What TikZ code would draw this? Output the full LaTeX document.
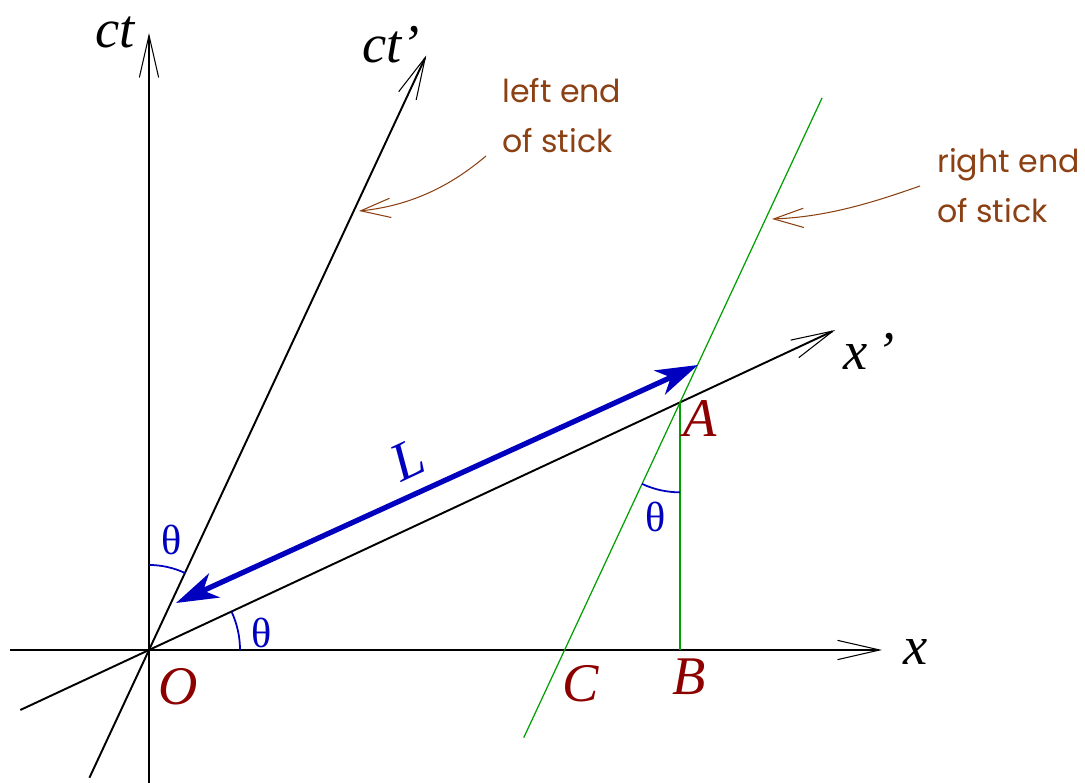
\documentclass[tikz,border=0pt]{standalone}
\usepackage{fontspec}
\setmainfont{Liberation Serif}
\newfontfamily\gothic{Poppins}
\usetikzlibrary{arrows.meta,calc}
\definecolor{stickbrown}{RGB}{140,65,20}
\definecolor{ptred}{RGB}{140,0,0}
\definecolor{angblue}{RGB}{0,0,190}
\definecolor{linegreen}{RGB}{0,160,0}
\tikzset{
  axis/.style  ={line width=1.1pt, -{Straight Barb[length=24pt,width=11pt,line width=0.6pt]}},
  wline/.style ={linegreen, line width=0.7pt},
  ang/.style   ={angblue, line width=1pt},
  larr/.style  ={angblue, line width=3pt, {Stealth[length=24pt,width=15pt,inset=7pt]}-{Stealth[length=24pt,width=15pt,inset=7pt]}},
  note/.style  ={stickbrown, line width=0.6pt, -{Straight Barb[length=17pt,width=11pt,line width=0.6pt]}},
  axlbl/.style ={font=\fontsize{31}{31}\selectfont\itshape, inner sep=0pt, anchor=base west},
  ptlbl/.style ={axlbl, ptred},
  thlbl/.style ={font=\fontsize{24}{24}\selectfont, angblue, inner sep=0pt},
  stick/.style ={font=\gothic\fontsize{18}{28.5}\selectfont, stickbrown, align=left, inner sep=0pt, anchor=north west},
}
\begin{document}
\begin{tikzpicture}[x=0.02cm, y=0.02cm]
  \useasboundingbox (0,0) rectangle (1085,783);
  % frame points
  \coordinate (O) at (149,133);
  \coordinate (xl) at (10,133);
  \coordinate (xr) at (882,133);
  \coordinate (tb) at (149,0);
  \coordinate (tt) at (149,750);
  \coordinate (tpb) at ($(O)+(245:141)$);
  \coordinate (tpt) at ($(O)+(65:656)$);
  \coordinate (xpb) at ($(O)+(205:142)$);
  \coordinate (xpt) at ($(O)+(25:757)$);
  \coordinate (A) at ($(O)+(25:586)$);
  \coordinate (B) at (A |- O);
  \coordinate (C) at ($(A)+(245:273.2)$);
  \coordinate (wt) at ($(A)+(65:336)$);
  \coordinate (wb) at ($(A)+(245:370)$);
  \coordinate (Ls) at (176,180);
  \coordinate (Le) at (698,418);
  % axes
  \draw[axis] (xl) -- (xr);
  \draw[axis] (tb) -- (tt);
  \draw[axis] (tpb) -- (tpt);
  \draw[axis] (xpb) -- (xpt);
  % world line of right end
  \draw[wline] (wb) -- (wt);
  \draw[wline] (A) -- (B);
  % length of stick
  \draw[larr] (Ls) -- (Le);
  \node[axlbl, angblue, anchor=center, rotate=25] (lL) at (408,323) {L};
  % angles
  \draw[ang] ($(O)+(90:85)$) arc[start angle=90, end angle=65, radius=85];
  \draw[ang] ($(O)+(0:91)$) arc[start angle=0, end angle=25, radius=91];
  \draw[ang] ($(A)+(270:90)$) arc[start angle=270, end angle=245, radius=90];
  \node[thlbl] (th1) at (172,243) {θ};
  \node[thlbl] (th2) at (262,150) {θ};
  \node[thlbl] (th3) at (656,266) {θ};
  % labels
  \node[axlbl] (lct) at (95,735) {ct};
  \node[axlbl] (lctp) at (362,720) {ct’};
  \node[axlbl] (lxp) at (843,413) {x\,’};
  \node[axlbl] (lx) at (903,118) {x};
  \node[ptlbl] (lO) at (158,78) {O};
  \node[ptlbl] (lA) at (683,346) {A};
  \node[ptlbl] (lB) at (672,88) {B};
  \node[ptlbl] (lC) at (562,81) {C};
  % notes
  \node[stick] (lend) at (502,705) {left end\\of stick};
  \node[stick] (rend) at (937,635) {right end\\of stick};
  \coordinate (la) at (486,627);
  \coordinate (lb) at (359,572);
  \coordinate (ra) at (920,597);
  \coordinate (rb) at (772,564);
  \draw[note] (la) .. controls (460,605) and (420,578) .. (lb);
  \draw[note] (ra) .. controls (880,583) and (830,566) .. (rb);
\end{tikzpicture}
\end{document}
